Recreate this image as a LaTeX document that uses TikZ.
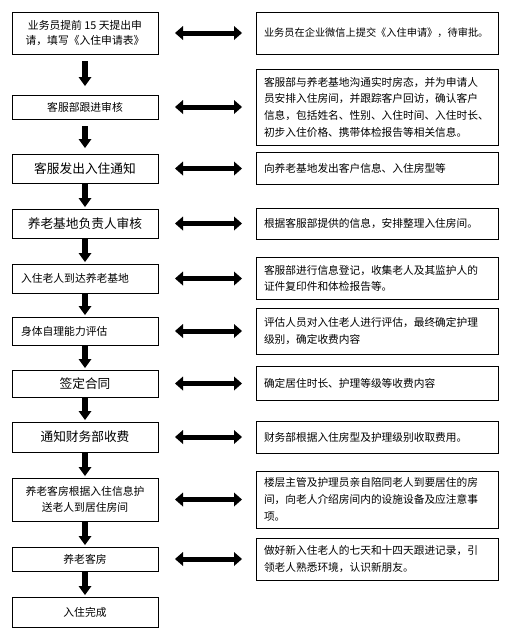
\documentclass[tikz,border=0pt]{standalone}
\usepackage{fontspec}
\setmainfont{Noto Sans CJK SC}
\usetikzlibrary{arrows.meta,positioning}
\newcommand{\fsz}[2]{\fontsize{#1pt}{#2pt}\selectfont}

\begin{document}
\begin{tikzpicture}[x=1pt,y=1pt,
  stage/.style={draw,line width=1pt,minimum width=146pt,inner sep=3pt,outer sep=0pt,align=center,font=\fsz{10.8}{15.5}},
  note/.style={draw,line width=1pt,text width=226pt,inner xsep=8pt,inner ysep=3pt,outer sep=0pt,align=left,font=\fsz{10.7}{16.7}},
  flow/.style={line width=6pt,-{Triangle[length=9pt,width=13pt,line width=0pt]},shorten >=2pt},
  link/.style={line width=5pt,{Triangle[length=8pt,width=14pt,line width=0pt]}-{Triangle[length=8pt,width=14pt,line width=0pt]},shorten <=17pt,shorten >=14pt}]
\useasboundingbox (0,0) rectangle (510,-640);
\node[stage,minimum height=42pt](s1) at (85,-33){业务员提前 15 天提出申\\请，填写《入住申请表》};
\node[stage,minimum height=24pt,below=41pt of s1](s2){客服部跟进审核};
\node[stage,minimum height=29pt,below=35pt of s2,font=\fsz{12.7}{15}](s3){客服发出入住通知};
\node[stage,minimum height=29pt,below=26pt of s3,font=\fsz{12.7}{15}](s4){养老基地负责人审核};
\node[stage,minimum height=29pt,below=26pt of s4,text width=128pt,inner xsep=9pt,align=left](s5){入住老人到达养老基地};
\node[stage,minimum height=28pt,below=24pt of s5,text width=128pt,inner xsep=9pt,align=left](s6){身体自理能力评估};
\node[stage,minimum height=27pt,below=25pt of s6,font=\fsz{12.7}{15}](s7){签定合同};
\node[stage,minimum height=30pt,below=25pt of s7,font=\fsz{12.7}{15}](s8){通知财务部收费};
\node[stage,minimum height=43pt,below=26pt of s8](s9){养老客房根据入住信息护\\送老人到居住房间};
\node[stage,minimum height=24pt,below=26pt of s9](s10){养老客房};
\node[stage,minimum height=30pt,below=26pt of s10](s11){入住完成};
\node[note,minimum height=42pt,right=98pt of s1,font=\fsz{10.2}{16}](r1){业务员在企业微信上提交《入住申请》，待审批。};
\node[note,minimum height=76pt,right=98pt of s2](r2){客服部与养老基地沟通实时房态，并为申请人\\员安排入住房间，并跟踪客户回访，确认客户\\信息，包括姓名、性别、入住时间、入住时长、\\初步入住价格、携带体检报告等相关信息。};
\node[note,minimum height=32pt,right=98pt of s3](r3){向养老基地发出客户信息、入住房型等};
\node[note,minimum height=31pt,right=98pt of s4](r4){根据客服部提供的信息，安排整理入住房间。};
\node[note,minimum height=42pt,right=98pt of s5](r5){客服部进行信息登记，收集老人及其监护人的\\证件复印件和体检报告等。};
\node[note,minimum height=46pt,right=98pt of s6](r6){评估人员对入住老人进行评估，最终确定护理\\级别，确定收费内容};
\node[note,minimum height=34pt,right=98pt of s7](r7){确定居住时长、护理等级等收费内容};
\node[note,minimum height=32pt,right=98pt of s8](r8){财务部根据入住房型及护理级别收取费用。};
\node[note,minimum height=57pt,right=98pt of s9](r9){楼层主管及护理员亲自陪同老人到要居住的房\\间，向老人介绍房间内的设施设备及应注意事\\项。};
\node[note,minimum height=42pt,right=98pt of s10](r10){做好新入住老人的七天和十四天跟进记录，引\\领老人熟悉环境，认识新朋友。};
\draw[flow,shorten <=7pt,shorten >=9pt](s1)--(s2);
\draw[flow,shorten <=7pt,shorten >=6pt](s2)--(s3);
\draw[flow](s3)--(s4);
\draw[flow](s4)--(s5);
\draw[flow](s5)--(s6);
\draw[flow](s6)--(s7);
\draw[flow](s7)--(s8);
\draw[flow](s8)--(s9);
\draw[flow](s9)--(s10);
\draw[flow](s10)--(s11);
\draw[link](s1)--(r1);
\draw[link](s2)--(r2);
\draw[link](s3)--(r3);
\draw[link](s4)--(r4);
\draw[link](s5)--(r5);
\draw[link](s6)--(r6);
\draw[link](s7)--(r7);
\draw[link](s8)--(r8);
\draw[link](s9)--(r9);
\draw[link](s10)--(r10);
\end{tikzpicture}
\end{document}
